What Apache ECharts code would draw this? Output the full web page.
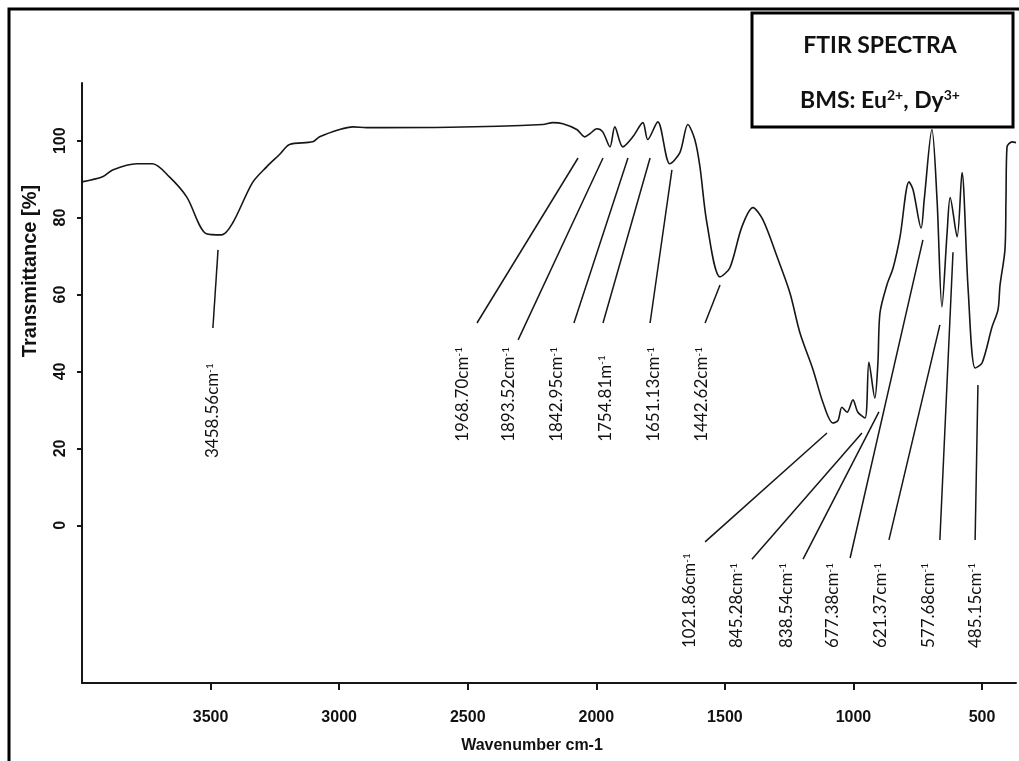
<!DOCTYPE html>
<html>
<head>
<meta charset="utf-8">
<script src="https://cdn.jsdelivr.net/npm/echarts@6/dist/echarts.min.js"></script>
<style>
  html, body { margin: 0; padding: 0; background: #fff; }
  #chart { width: 1019px; height: 761px; }
</style>
</head>
<body>
<div id="chart"></div>
<script>
// spectrum (cm-1 / %T)
const WAVENUMBER = [
  4000, 3920, 3881, 3788, 3726, 3660, 3593, 3516, 3457, 3414, 3337, 3282, 3232, 3193, 3103, 3076,
  2998, 2947, 2893, 2570, 2208, 2169, 2130, 2076, 2045, 2025, 1998, 1975, 1947, 1928, 1897, 1858,
  1819, 1800, 1761, 1714, 1675, 1644, 1617, 1597, 1570, 1519, 1481, 1434, 1391, 1352, 1297, 1247,
  1208, 1157, 1118, 1080, 1060, 1045, 1025, 1002, 983, 955, 940, 917, 905, 897, 870, 846, 819, 784,
  768, 737, 725, 695, 675, 656, 636, 624, 597, 578, 554, 527, 500, 461, 438, 430, 411, 407, 403,
  383, 368,
];
const TRANSMITTANCE = [
  89.3, 90.6, 92.4, 94.0, 94.0, 90.6, 85.4, 75.8, 75.5, 78.6, 89.1, 93.2, 96.4, 99.0, 99.7, 101.0,
  102.9, 103.6, 103.4, 103.5, 104.2, 104.7, 104.4, 102.9, 101.0, 101.8, 103.1, 102.3, 98.4, 103.6, 98.4, 101.0,
  104.7, 100.3, 104.9, 94.0, 96.9, 104.2, 100.3, 93.2, 78.6, 64.6, 66.9, 77.6, 82.6, 79.4, 69.8, 60.4,
  50.0, 40.4, 31.8, 26.6, 27.3, 30.7, 29.4, 32.6, 29.4, 27.9, 42.4, 33.1, 42.2, 55.2, 62.5, 66.9, 75.0, 89.3,
  87.2, 77.3, 84.6, 102.9, 84.6, 56.8, 76.0, 85.2, 75.0, 91.7, 61.2, 40.9, 42.2, 51.6, 56.0, 62.5, 71.6, 84.6, 98.4,
  99.7, 99.5,
];

const X_TICKS = [500, 1000, 1500, 2000, 2500, 3000, 3500];
const Y_TICKS = [0, 20, 40, 60, 80, 100];

// peak annotations: text, leader line ends and label anchor, all in data units
const PEAK_LABELS = [
  '3458.56cm', '1968.70cm', '1893.52cm', '1842.95cm', '1754.81m', '1651.13cm', '1442.62cm',
  '1021.86cm', '845.28cm', '838.54cm', '677.38cm', '621.37cm', '577.68cm', '485.15cm',
];
const LEADER_FROM = [
  [3471, 71.6], [2071, 95.5], [1974, 95.5], [1877, 95.5], [1791, 95.5], [1706, 92.4], [1519, 62.5],
  [1103, 24.0], [967, 24.0], [901, 29.5], [730, 74.2], [664, 52.1], [613, 71.0], [516, 36.5],
];
const LEADER_TO = [
  [3491, 51.3], [2464, 52.6], [2304, 48.2], [2087, 52.6], [1974, 52.6], [1791, 52.6], [1577, 52.6],
  [1577, -4.3], [1395, -8.8], [1196, -8.8], [1013, -8.5], [862, -3.8], [664, -3.8], [527, -3.8],
];
const LABEL_AT = [
  [3491, 17.5], [2522, 21.7], [2340, 21.7], [2153, 21.7], [1966, 21.7], [1776, 21.7], [1589, 21.7],
  [1636, -31.9], [1453, -31.9], [1262, -31.9], [1080, -31.9], [893, -31.9], [710, -31.9], [527, -31.9],
];

const ink = '#161616';
const tickFont = "'Liberation Sans', Arial, sans-serif";

const chart = echarts.init(document.getElementById('chart'));

chart.setOption({
  backgroundColor: '#fff',
  animation: false,
  grid: { left: 82, right: 3, top: 83, bottom: 78 },
  xAxis: {
    type: 'value',
    inverse: true,
    min: 368,
    max: 4000,
    axisLine: { onZero: false, lineStyle: { color: ink, width: 2 } },
    axisTick: { customValues: X_TICKS, length: 7, lineStyle: { color: ink, width: 2 } },
    axisLabel: {
      customValues: X_TICKS,
      formatter: (v) => String(v),
      margin: 27,
      color: '#111',
      fontWeight: 'bold',
      fontSize: 16,
      fontFamily: tickFont,
    },
    splitLine: { show: false },
  },
  yAxis: {
    type: 'value',
    min: -41,
    max: 115,
    axisLine: { show: true, onZero: false, lineStyle: { color: ink, width: 2 } },
    axisTick: { show: true, customValues: Y_TICKS, length: 5, lineStyle: { color: ink, width: 2 } },
    axisLabel: {
      customValues: Y_TICKS,
      formatter: (v) => String(v),
      rotate: 90,
      margin: 13,
      color: '#111',
      fontWeight: 'bold',
      fontSize: 16,
      fontFamily: tickFont,
    },
    splitLine: { show: false },
  },
  graphic: [
    {
      type: 'rect',
      shape: { x: 9, y: 9, width: 1040, height: 800 },
      style: { fill: 'none', stroke: '#000', lineWidth: 3 },
      z: 100,
    },
    {
      type: 'rect',
      shape: { x: 752, y: 13, width: 261, height: 114 },
      style: { fill: '#fff', stroke: '#000', lineWidth: 3 },
      z: 100,
    },
    {
      type: 'text',
      x: 880,
      y: 46,
      z: 101,
      style: {
        text: 'FTIR SPECTRA',
        align: 'center',
        verticalAlign: 'middle',
        font: "bold 23px Lato, 'Open Sans', sans-serif",
        fill: '#111',
      },
    },
    {
      type: 'text',
      x: 880,
      y: 100,
      z: 101,
      style: {
        text: '{b|BMS: Eu}{sup|2+}{b|, Dy}{sup|3+}',
        align: 'center',
        verticalAlign: 'middle',
        rich: {
          b: { font: "bold 23px Lato, 'Open Sans', sans-serif", fill: '#111', lineHeight: 24, verticalAlign: 'bottom' },
          sup: { font: "bold 14px Lato, 'Open Sans', sans-serif", fill: '#111', lineHeight: 14, verticalAlign: 'top' },
        },
      },
    },
    {
      type: 'text',
      x: 30,
      y: 271,
      rotation: Math.PI / 2,
      style: {
        text: 'Transmittance [%]',
        align: 'center',
        verticalAlign: 'middle',
        font: "bold 20px 'Liberation Sans', Arial, sans-serif",
        fill: '#111',
      },
    },
    {
      type: 'text',
      x: 532,
      y: 746,
      style: {
        text: 'Wavenumber cm-1',
        align: 'center',
        verticalAlign: 'middle',
        font: 'bold 16px ' + tickFont,
        fill: '#111',
      },
    },
  ],
  series: [
    {
      name: 'FTIR',
      type: 'line',
      data: WAVENUMBER.map((v, i) => [v, TRANSMITTANCE[i]]),
      smooth: 0.3,
      showSymbol: false,
      lineStyle: { color: ink, width: 1.6 },
      z: 3,
    },
    {
      name: 'peaks',
      type: 'custom',
      coordinateSystem: 'cartesian2d',
      clip: false,
      data: LABEL_AT,
      renderItem: (params, api) => {
        const i = params.dataIndex;
        const a = api.coord(LEADER_FROM[i]);
        const b = api.coord(LEADER_TO[i]);
        const t = api.coord([api.value(0), api.value(1)]);
        return {
          type: 'group',
          children: [
            {
              type: 'line',
              shape: { x1: a[0], y1: a[1], x2: b[0], y2: b[1] },
              style: { stroke: ink, lineWidth: 1.5 },
            },
            {
              type: 'text',
              x: t[0],
              y: t[1],
              rotation: Math.PI / 2,
              style: {
                text: `{n|${PEAK_LABELS[i]}}{s|-1}`,
                align: 'left',
                verticalAlign: 'middle',
                rich: {
                  n: { font: "17px Lato, 'Open Sans', sans-serif", fill: '#111', lineHeight: 17, verticalAlign: 'bottom' },
                  s: { font: "10px Lato, 'Open Sans', sans-serif", fill: '#111', lineHeight: 10, verticalAlign: 'top' },
                },
              },
            },
          ],
        };
      },
      z: 4,
    },
  ],
});
</script>
</body>
</html>
